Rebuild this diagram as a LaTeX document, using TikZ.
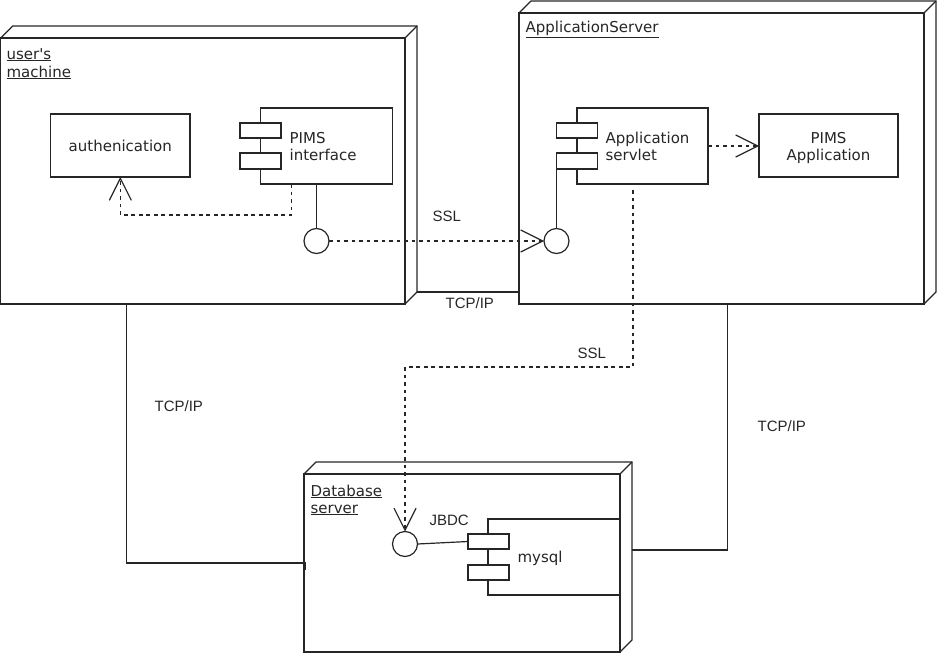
\documentclass[tikz,border=0pt]{standalone}
\usepackage{fontspec}
\newfontfamily\nfont{DejaVu Sans}
\newfontfamily\efont{Liberation Sans}
\usetikzlibrary{arrows.meta}
\begin{document}
\begin{tikzpicture}[x=1pt,y=-1pt,
  line width=1.2pt, color=black!85,
  box/.style={draw, inner sep=0pt, outer sep=0pt, anchor=north west, fill=white},
  port/.style={draw, circle, inner sep=0pt, outer sep=0pt, minimum size=25pt, fill=white},
  ntext/.style={font=\nfont\fontsize{15}{18}\selectfont, inner sep=0pt, anchor=base west},
  ctext/.style={font=\nfont\fontsize{15}{18}\selectfont, inner sep=0pt, anchor=base},
  etext/.style={font=\efont\fontsize{15}{18}\selectfont, inner sep=0pt, anchor=base west},
  dep/.style={dash pattern=on 3.75pt off 3.75pt, -{Straight Barb[length=22pt,width=22pt]}}
]
\useasboundingbox (0,0) rectangle (937,653);

% ---- 3D nodes ----
\node[box, minimum width=404.2pt, minimum height=266pt] (um) at (0.8,38) {};
\draw (um.north west) -- ++(12,-12) -- ([shift={(12,-12)}]um.north east) -- ([shift={(12,-12)}]um.south east) -- (um.south east);
\draw (um.north east) -- ++(12,-12);

\node[box, minimum width=405pt, minimum height=291pt] (as) at (519,13) {};
\draw (as.north west) -- ++(12,-12) -- ([shift={(12,-12)}]as.north east) -- ([shift={(12,-12)}]as.south east) -- (as.south east);
\draw (as.north east) -- ++(12,-12);

\node[box, minimum width=316pt, minimum height=178pt] (db) at (304,474) {};
\draw (db.north west) -- ++(12,-12) -- ([shift={(12,-12)}]db.north east) -- ([shift={(12,-12)}]db.south east) -- (db.south east);
\draw (db.north east) -- ++(12,-12);

% ---- node labels ----
\node[ntext] (lum1) at (6,59) {\underline{user's}};
\node[ntext] (lum2) at (6,77) {\underline{machine}};
\node[ntext] (las) at (525,32.5) {\underline{ApplicationServer}};
\node[ntext] (ldb1) at (310,496) {\underline{Database}};
\node[ntext] (ldb2) at (310,513) {\underline{server}};

% ---- user's machine contents ----
\node[box, minimum width=139.3pt, minimum height=63pt] (auth) at (50.7,114) {};
\node[ctext] (tauth) at (120.3,151) {authenication};

\node[box, minimum width=132pt, minimum height=76pt] (pimsif) at (260.7,108) {};
\node[box, minimum width=41pt, minimum height=15pt] (pimsif1) at (240,123) {};
\node[box, minimum width=41pt, minimum height=16pt] (pimsif2) at (240,153) {};
\node[ntext] (tpimsif1) at (289,143) {PIMS};
\node[ntext] (tpimsif2) at (289,160) {interface};

\node[port] (c1) at (316.5,241) {};

% ---- application server contents ----
\node[box, minimum width=131pt, minimum height=76pt] (servlet) at (577,108) {};
\node[box, minimum width=41pt, minimum height=15pt] (servlet1) at (556.5,123) {};
\node[box, minimum width=41pt, minimum height=16pt] (servlet2) at (556.5,153) {};
\node[ntext] (tservlet1) at (605,143) {Application};
\node[ntext] (tservlet2) at (605,160) {servlet};

\node[box, minimum width=139pt, minimum height=63pt] (pimsapp) at (759,114) {};
\node[ctext] (tpimsapp1) at (828.5,143) {PIMS};
\node[ctext] (tpimsapp2) at (828.5,160) {Application};

\node[port] (c2) at (556.5,241) {};

% ---- database server contents ----
\node[box, minimum width=132pt, minimum height=76pt] (mysql) at (488,519) {};
\node[box, minimum width=41pt, minimum height=15pt] (mysql1) at (468,534) {};
\node[box, minimum width=41pt, minimum height=15pt] (mysql2) at (468,565) {};
\node[ntext] (tmysql) at (517,562) {mysql};

\node[port] (c3) at (405,544) {};

% ---- connectors ----
\draw (c1.north) -- (c1.north |- pimsif.south);
\draw (c2.north) -- (servlet2.south west);
\draw (c3.east) -- (mysql1.west);

\draw[dep] ([xshift=31pt]pimsif.south west) -- ++(0,31) -| (auth.south);
\draw[dep] (c1.east) -- (c2.west);
\draw[dep] (servlet.east) -- (servlet.east -| pimsapp.west);
\draw[dep] ([xshift=56pt,yshift=-6pt]servlet.south west) -- ++(0,177) -| (c3.north);

\coordinate (umbr) at ([shift={(12,-12)}]um.south east);
\draw (umbr) -- (umbr -| as.west);
\draw ([xshift=126pt]um.south west) |- ([xshift=1.5pt]db.west) -- ++(0,7);
\draw ([xshift=208.5pt]as.south west) |- ([xshift=12pt,yshift=13pt]db.east);

% ---- connector labels ----
\node[etext] (lssl1) at (432,221) {SSL};
\node[etext] (ltcp1) at (445,308) {TCP/IP};
\node[etext] (lssl2) at (577,358) {SSL};
\node[etext] (ltcp2) at (154,411) {TCP/IP};
\node[etext] (ltcp3) at (757,431) {TCP/IP};
\node[etext] (ljbdc) at (429,525) {JBDC};
\end{tikzpicture}
\end{document}
